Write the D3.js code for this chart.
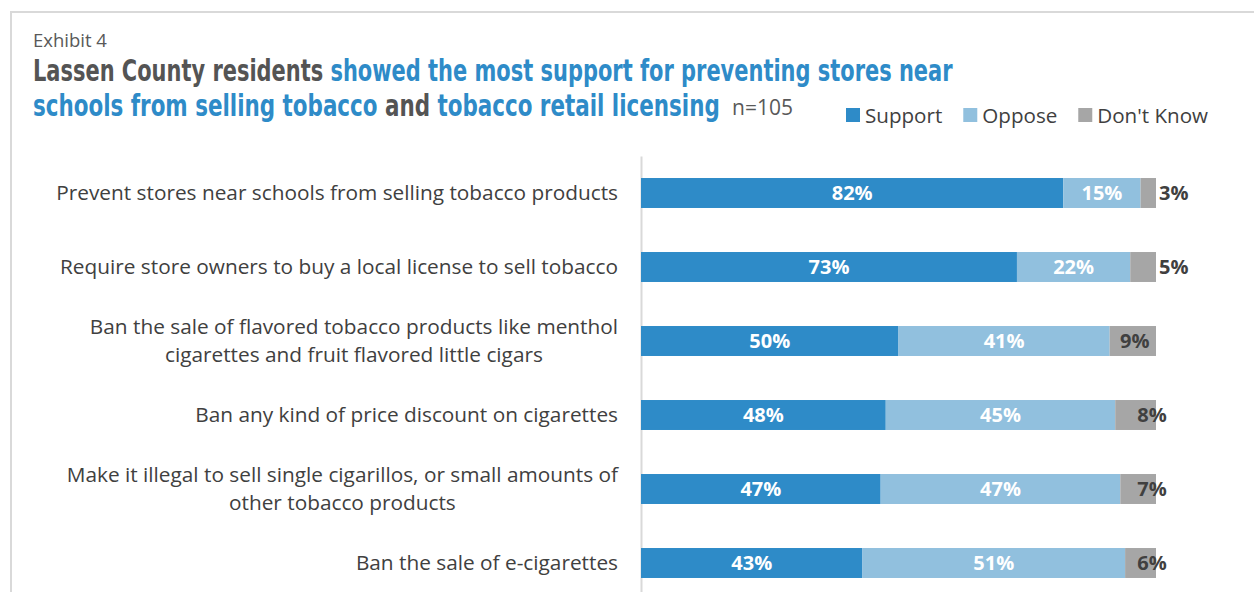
<!DOCTYPE html>
<html>
<head>
<meta charset="utf-8">
<script src="https://cdn.jsdelivr.net/npm/d3@7"></script>
<style>
  html, body { margin: 0; padding: 0; background: #ffffff; }
  svg { display: block; }
</style>
</head>
<body>
<script>
// Survey items (each entry is one label, split into its display lines)
const categories = [
  ["Prevent stores near schools from selling tobacco products"],
  ["Require store owners to buy a local license to sell tobacco"],
  ["Ban the sale of flavored tobacco products like menthol", "cigarettes and fruit flavored little cigars"],
  ["Ban any kind of price discount on cigarettes"],
  ["Make it illegal to sell single cigarillos, or small amounts of", "other tobacco products"],
  ["Ban the sale of e-cigarettes"]
];
const support  = [82, 73, 50, 48, 47, 43];
const oppose   = [15, 22, 41, 45, 47, 51];
const dontKnow = [3, 5, 9, 8, 7, 6];
const seriesNames = ["Support", "Oppose", "Don't Know"];
const sampleLabel = "n=105";

const W = 1254, H = 592;
const colors = { "Support": "#2e8bc8", "Oppose": "#91c0de", "Don't Know": "#a6a6a6" };
const titleBlue = "#2e8bc8", titleGray = "#545454", textGray = "#404040";
const sans = "'Open Sans', 'Noto Sans', sans-serif";
const narrow = "'Liberation Sans Narrow', 'DejaVu Sans Condensed', sans-serif";

const svg = d3.select("body").append("svg")
  .attr("width", W).attr("height", H)
  .attr("viewBox", `0 0 ${W} ${H}`);

svg.append("rect").attr("width", W).attr("height", H).attr("fill", "#fff");

// Panel frame (top and left edges)
svg.append("path")
  .attr("d", `M11,${H} L11,12 L${W},12`)
  .attr("fill", "none").attr("stroke", "#d9d9d9").attr("stroke-width", 2);

// Heading
svg.append("text").attr("x", 33).attr("y", 47)
  .attr("font-family", sans).attr("font-size", 18.5).attr("fill", "#595959")
  .text("Exhibit 4");

function titleLine(parts, y, targetWidth) {
  const t = svg.append("text").attr("x", 0).attr("y", 0)
    .attr("font-family", narrow).attr("font-weight", "bold").attr("font-size", 31);
  parts.forEach(([str, col]) => t.append("tspan").attr("fill", col).text(str));
  const w = t.node().getComputedTextLength();
  t.attr("transform", `translate(33,${y}) scale(${targetWidth / w},1)`);
}
titleLine([["Lassen County residents ", titleGray],
           ["showed the most support for preventing stores near", titleBlue]], 81, 920);
titleLine([["schools from selling tobacco ", titleBlue], ["and ", titleGray],
           ["tobacco retail licensing", titleBlue]], 116, 687);

svg.append("text").attr("x", 732).attr("y", 115)
  .attr("font-family", sans).attr("font-size", 21).attr("fill", "#595959")
  .text(sampleLabel);

// Legend
let lx = 846;
seriesNames.forEach(name => {
  svg.append("rect").attr("x", lx).attr("y", 108).attr("width", 14).attr("height", 14)
    .attr("fill", colors[name]);
  const t = svg.append("text").attr("x", lx + 19).attr("y", 123)
    .attr("font-family", sans).attr("font-size", 20.6).attr("fill", textGray).text(name);
  lx += 19 + t.node().getComputedTextLength() + 21;
});

// Stacked, normalised bars
const rows = categories.map((c, i) => ({
  key: i, "Support": support[i], "Oppose": oppose[i], "Don't Know": dontKnow[i]
}));
const stack = d3.stack().keys(seriesNames).offset(d3.stackOffsetExpand);
const layers = stack(rows);

const x = d3.scaleLinear().domain([0, 1]).range([641, 1156]);
const y = d3.scaleBand().domain(rows.map(r => r.key)).range([156, 600])
  .paddingInner(0.595).paddingOuter(0.2975);

// Category axis line
const axis = svg.append("g").attr("transform", "translate(641,0)")
  .call(d3.axisLeft(y).tickSize(0).tickFormat(""));
axis.select(".domain").attr("stroke", "#d9d9d9").attr("stroke-width", 2);

const g = svg.append("g");
layers.forEach(layer => {
  g.selectAll(null).data(layer).enter().append("rect")
    .attr("x", d => x(d[0]))
    .attr("y", d => y(d.data.key))
    .attr("width", d => x(d[1]) - x(d[0]))
    .attr("height", y.bandwidth())
    .attr("fill", colors[layer.key]);
});

// Value labels
layers.forEach(layer => {
  const dark = layer.key === "Don't Know";
  g.selectAll(null).data(layer).enter().append("text")
    .attr("font-family", sans).attr("font-weight", "bold").attr("font-size", 20)
    .attr("fill", dark ? textGray : "#fff")
    .attr("y", d => y(d.data.key) + y.bandwidth() / 2)
    .attr("dy", "0.36em")
    .each(function(d) {
      const v = d.data[layer.key];
      const sel = d3.select(this);
      const mid = (x(d[0]) + x(d[1])) / 2;
      if (dark && v <= 5) {
        sel.attr("x", x(d[1]) + 3).attr("text-anchor", "start");
      } else if (dark && v < 9) {
        sel.attr("x", x(d[1]) - 4).attr("text-anchor", "middle");
      } else {
        sel.attr("x", mid + (dark ? 2 : 0)).attr("text-anchor", "middle");
      }
      sel.text(v + "%");
    });
});

// Category labels: right-aligned block, lines centred within it
const labelRight = 618, lineH = 28;
categories.forEach((lines, i) => {
  const cy = y(i) + y.bandwidth() / 2;
  const grp = svg.append("g");
  const texts = lines.map((ln, j) => grp.append("text")
    .attr("font-family", sans).attr("font-size", 20.8).attr("fill", textGray)
    .attr("text-anchor", "middle")
    .attr("y", cy + (j - (lines.length - 1) / 2) * lineH)
    .attr("dy", "0.35em").text(ln));
  const maxW = d3.max(texts, t => t.node().getComputedTextLength());
  texts.forEach(t => t.attr("x", labelRight - maxW / 2));
});
</script>
</body>
</html>
